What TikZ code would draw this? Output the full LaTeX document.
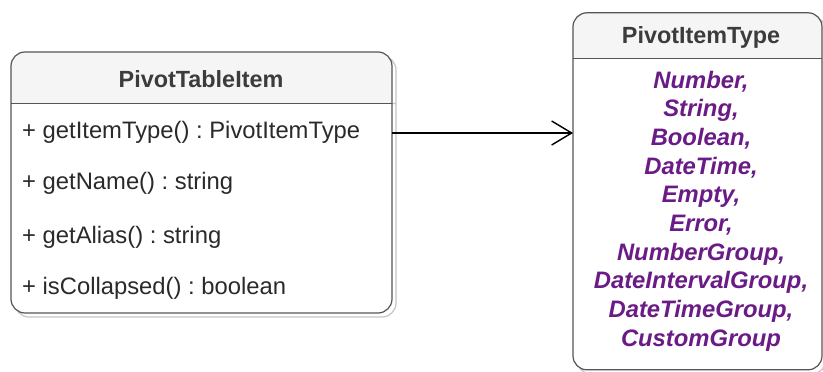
\documentclass[tikz,border=0pt]{standalone}
\usepackage{fontspec}
\setmainfont{Liberation Sans}
\usetikzlibrary{arrows.meta}
\definecolor{strokec}{HTML}{555555}
\definecolor{shadc}{HTML}{C4C4C4}
\definecolor{hdrc}{HTML}{F5F5F5}
\definecolor{txtc}{HTML}{3C3C3C}
\definecolor{rowc}{HTML}{2A2A2A}
\definecolor{enumc}{HTML}{6A1B86}
\begin{document}
\frenchspacing
\begin{tikzpicture}[x=1pt,y=-1pt,
  anchorbox/.style={draw=none,inner sep=0pt,outer sep=0pt},
  outline/.style={draw=strokec,line width=1.2pt,rounded corners=14pt},
  shadowline/.style={draw=shadc,line width=1.2pt,rounded corners=14pt},
  titletext/.style={font=\fontsize{23.4}{27}\selectfont\bfseries,text=txtc,inner sep=0pt},
  rowtext/.style={font=\fontsize{23.8}{27}\selectfont,text=rowc,inner sep=0pt,anchor=west},
  enumtext/.style={font=\fontsize{23.8}{28.67}\selectfont\bfseries\itshape,text=enumc,inner sep=0pt,align=center},
  assoc/.style={draw=black,line width=1.4pt,-{Straight Barb[length=20pt,width=24pt,line width=1.4pt]}}
]
\useasboundingbox (0,0) rectangle (823,372);

% ---------- left class box ----------
\node[anchorbox,minimum width=381pt,minimum height=261pt] (L) at (201.5,182.5) {};
\coordinate (Lsep) at (11,103.5);
% shadow
\draw[shadowline] ([shift={(4,4)}]L.north west) rectangle ([shift={(4,4)}]L.south east);
\draw[draw=shadc,line width=1.2pt] ([shift={(4,4)}]Lsep) -- ([shift={(4,0)}]Lsep -| L.east);
% body
\fill[white,rounded corners=14pt] (L.north west) rectangle (L.south east);
\begin{scope}
  \clip (L.north west) rectangle (Lsep -| L.east);
  \fill[hdrc,rounded corners=14pt] (L.north west) rectangle (L.south east);
\end{scope}
\draw[outline] (L.north west) rectangle (L.south east);
\draw[draw=strokec,line width=1.2pt] (Lsep) -- (Lsep -| L.east);

\node[titletext] (Ltitle) at (201,79) {PivotTableItem};
\node[rowtext] (r1) at (22,132) {+ getItemType() : PivotItemType};
\node[rowtext] (r2) at (22,183) {+ getName() : string};
\node[rowtext] (r3) at (22,237) {+ getAlias() : string};
\node[rowtext] (r4) at (22,288) {+ isCollapsed() : boolean};

% ---------- right enum box ----------
\node[anchorbox,minimum width=249pt,minimum height=357pt] (R) at (697.5,191.3) {};
\coordinate (Rsep) at (573,58.5);
\draw[shadowline] ([shift={(4,4)}]R.north west) rectangle ([shift={(4,4)}]R.south east);
\draw[draw=shadc,line width=1.2pt] ([shift={(4,4)}]Rsep) -- ([shift={(4,4)}]Rsep -| R.east);
\fill[white,rounded corners=14pt] (R.north west) rectangle (R.south east);
\begin{scope}
  \clip (R.north west) rectangle (Rsep -| R.east);
  \fill[hdrc,rounded corners=14pt] (R.north west) rectangle (R.south east);
\end{scope}
\draw[outline] (R.north west) rectangle (R.south east);
\draw[draw=strokec,line width=1.2pt] (Rsep) -- (Rsep -| R.east);

\node[titletext] (Rtitle) at (701,37) {PivotItemType};
\node[enumtext] (vals) at (701,211) {Number,\\String,\\Boolean,\\DateTime,\\Empty,\\Error,\\NumberGroup,\\DateIntervalGroup,\\DateTimeGroup,\\CustomGroup};

% ---------- association ----------
\draw[assoc] ([yshift=-1pt]r1.east -| L.east) -- ([yshift=-1pt]r1.east -| R.west);
\end{tikzpicture}
\end{document}
